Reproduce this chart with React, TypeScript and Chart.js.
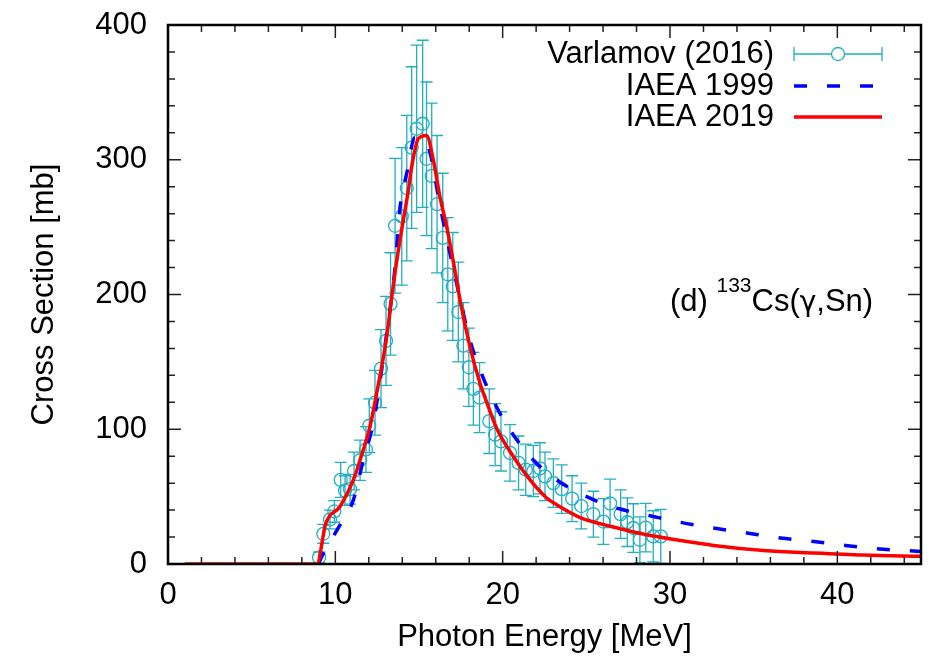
import React, { useEffect, useRef } from 'react';
import { Chart, registerables } from 'chart.js';

Chart.register(...registerables);

// ---- Data ----
const varlamovE = [9.03, 9.28, 9.68, 9.94, 10.32, 10.58, 10.88, 11.12, 11.48, 11.83, 12.03, 12.37, 12.73, 13.03, 13.3, 13.57, 13.97, 14.27, 14.56, 14.86, 15.22, 15.45, 15.76, 16.08, 16.42, 16.72, 17.02, 17.35, 17.65, 17.98, 18.25, 18.62, 19.2, 19.55, 19.9, 20.44, 20.95, 21.38, 21.83, 22.23, 22.53, 23.03, 23.53, 24.15, 24.7, 25.42, 26.02, 26.42, 27.05, 27.45, 27.81, 28.2, 28.55, 29.0, 29.45];
const varlamovXS = [4.9, 22.4, 33, 39, 62.4, 54.5, 55.5, 69, 77, 85, 102.6, 119.7, 145, 165.6, 193, 251, 258, 279, 309, 323, 326.7, 300.7, 288, 267, 242, 215, 206, 187, 162, 146, 130, 123.5, 106, 96, 91, 82.5, 75, 70, 69, 71, 65, 60, 55.5, 48.5, 43, 37, 31.5, 45, 37, 31, 26.7, 18, 27, 20.5, 20.5];
const varlamovErr = [4, 7, 7, 8, 13, 11, 11, 14, 15, 17, 20, 24, 29, 33, 38, 50, 51, 54, 60, 62, 62, 57, 54, 51, 48, 42, 40, 37, 32, 29, 27, 26, 24, 23, 22, 21, 20, 19, 19, 19, 18, 18, 18, 17, 17, 17, 17, 18, 18, 18, 18, 17, 18, 19, 20];

const iaea1999E = [8.98, 9.29, 10.28, 11.08, 11.67, 12.17, 12.47, 13.0, 13.57, 13.87, 14.27, 14.76, 15.56, 16.27, 16.9, 18.05, 18.65, 19.63, 20.44, 21.64, 23.23, 25.02, 26.82, 29.0, 30.6, 32.6, 34.6, 36.6, 38.6, 40.6, 42.55, 45];
const iaea1999XS = [0, 8, 29, 47.6, 77, 99.5, 119, 165, 220, 265, 290, 316.7, 309, 265, 228, 166, 144, 116.7, 99.5, 79.7, 62.4, 50, 41.5, 35.3, 31, 26.7, 23, 19.3, 16.7, 13.6, 11.1, 9.3];

const iaea2019E = [1, 8.89, 9.44, 10.28, 11.08, 11.67, 12.07, 12.47, 13.07, 13.37, 13.67, 14.06, 14.36, 14.56, 14.96, 15.45, 15.86, 16.26, 16.66, 17.25, 17.45, 18.05, 18.65, 19.05, 19.63, 20.63, 21.64, 22.63, 23.23, 24.63, 26.62, 28.61, 30.6, 32.6, 35.6, 38.6, 41.55, 45];
const iaea2019XS = [0, 0, 30.4, 42.7, 62.4, 84.7, 102, 126.7, 168.6, 198, 225, 255, 277, 294.5, 315.6, 318, 299.5, 272, 250, 210.6, 196, 161, 134, 120, 101, 80, 62.4, 49, 44, 34.5, 27.5, 21.7, 17.5, 13.8, 10, 8.1, 6.6, 5.7];

const xTicks = [0, 10, 20, 30, 40];
const yTicks = [0, 100, 200, 300, 400];
const xMinorStep = 2;
const yMinorStep = 20;

const legendLabels = ['Varlamov (2016)', 'IAEA 1999', 'IAEA 2019'];
const xTitle = 'Photon Energy [MeV]';
const yTitle = 'Cross Section [mb]';
const annPrefix = '(d) ';
const annSup = '133';
const annParts = ['Cs(', '\u03b3', ',Sn)'];

// ---- Styles ----
const FONT = '"Liberation Sans", Arial, Helvetica, sans-serif';
const GREEK_FONT = '"DejaVu Sans", sans-serif';
const FS = 31;
const CYAN = '#22afc2';
const BLUE = '#0000ff';
const RED = '#ff0000';

const errorBarPlugin = {
  id: 'errorBars',
  beforeDatasetsDraw(chart: any) {
    const { ctx, chartArea } = chart;
    const xs = chart.scales.x;
    const ys = chart.scales.y;
    ctx.save();
    ctx.beginPath();
    ctx.rect(chartArea.left, chartArea.top, chartArea.right - chartArea.left, chartArea.bottom - chartArea.top);
    ctx.clip();
    ctx.strokeStyle = CYAN;
    ctx.lineWidth = 1.3;
    varlamovE.forEach((e, i) => {
      const px = xs.getPixelForValue(e);
      const t = ys.getPixelForValue(varlamovXS[i] + varlamovErr[i]);
      const b = ys.getPixelForValue(varlamovXS[i] - varlamovErr[i]);
      ctx.beginPath();
      ctx.moveTo(px, t);
      ctx.lineTo(px, b);
      ctx.moveTo(px - 6, t);
      ctx.lineTo(px + 6, t);
      ctx.moveTo(px - 6, b);
      ctx.lineTo(px + 6, b);
      ctx.stroke();
    });
    ctx.restore();
  },
};

const framePlugin = {
  id: 'frame',
  afterDatasetsDraw(chart: any) {
    const { ctx, chartArea } = chart;
    const { left, right, top, bottom } = chartArea;
    const xs = chart.scales.x;
    const ys = chart.scales.y;
    ctx.save();
    ctx.strokeStyle = '#222';
    ctx.lineWidth = 1.5;
    ctx.beginPath();
    for (let v = xs.min; v <= xs.max + 1e-9; v += xMinorStep) {
      const major = xTicks.includes(v);
      const len = major ? 13 : 7;
      const p = xs.getPixelForValue(v);
      ctx.moveTo(p, bottom);
      ctx.lineTo(p, bottom - len);
      ctx.moveTo(p, top);
      ctx.lineTo(p, top + len);
    }
    for (let v = ys.min; v <= ys.max + 1e-9; v += yMinorStep) {
      const major = yTicks.includes(v);
      const len = major ? 13 : 7;
      const p = ys.getPixelForValue(v);
      ctx.moveTo(left, p);
      ctx.lineTo(left + len, p);
      ctx.moveTo(right, p);
      ctx.lineTo(right - len, p);
    }
    ctx.stroke();
    ctx.strokeStyle = '#000';
    ctx.lineWidth = 2.5;
    ctx.strokeRect(left, top, right - left, bottom - top);
    ctx.restore();
  },
  afterDraw(chart: any) {
    const { ctx } = chart;
    ctx.save();
    // legend
    ctx.font = `${FS}px ${FONT}`;
    ctx.fillStyle = '#000';
    ctx.textAlign = 'right';
    ctx.textBaseline = 'middle';
    const rows = [54, 86, 117];
    const textRight = 774;
    const s0 = 794;
    const s1 = 882;
    legendLabels.forEach((l, i) => ctx.fillText(l, textRight, rows[i]));
    // Varlamov sample
    ctx.strokeStyle = CYAN;
    ctx.lineWidth = 1.3;
    ctx.beginPath();
    ctx.moveTo(s0, rows[0]);
    ctx.lineTo(s1, rows[0]);
    ctx.moveTo(s0, rows[0] - 7);
    ctx.lineTo(s0, rows[0] + 7);
    ctx.moveTo(s1, rows[0] - 7);
    ctx.lineTo(s1, rows[0] + 7);
    ctx.stroke();
    ctx.fillStyle = '#fff';
    ctx.beginPath();
    ctx.arc((s0 + s1) / 2, rows[0], 6.5, 0, Math.PI * 2);
    ctx.fill();
    ctx.stroke();
    // IAEA 1999 sample
    ctx.strokeStyle = BLUE;
    ctx.lineWidth = 3.5;
    ctx.setLineDash([13, 20]);
    ctx.beginPath();
    ctx.moveTo(s0, rows[1]);
    ctx.lineTo(s1, rows[1]);
    ctx.stroke();
    ctx.setLineDash([]);
    // IAEA 2019 sample
    ctx.strokeStyle = RED;
    ctx.beginPath();
    ctx.moveTo(s0, rows[2]);
    ctx.lineTo(s1, rows[2]);
    ctx.stroke();
    // annotation
    ctx.fillStyle = '#000';
    ctx.textAlign = 'left';
    ctx.textBaseline = 'alphabetic';
    let x = 670;
    ctx.font = `${FS}px ${FONT}`;
    ctx.fillText(annPrefix, x, 311);
    x += ctx.measureText(annPrefix).width;
    ctx.font = `21px ${FONT}`;
    ctx.fillText(annSup, x, 292);
    x += ctx.measureText(annSup).width;
    annParts.forEach((p, i) => {
      ctx.font = i === 1 ? `28px ${GREEK_FONT}` : `${FS}px ${FONT}`;
      ctx.fillText(p, x, 311);
      x += ctx.measureText(p).width;
    });
    ctx.restore();
  },
};

export default function App() {
  const ref = useRef<HTMLCanvasElement>(null);
  useEffect(() => {
    const chart = new Chart(ref.current as HTMLCanvasElement, {
      type: 'scatter',
      data: {
        datasets: [
          {
            label: legendLabels[2],
            data: iaea2019E.map((e, i) => ({ x: e, y: iaea2019XS[i] })),
            showLine: true,
            borderColor: RED,
            borderWidth: 3.5,
            pointRadius: 0,
            cubicInterpolationMode: 'monotone',
            order: 0,
          },
          {
            label: legendLabels[1],
            data: iaea1999E.map((e, i) => ({ x: e, y: iaea1999XS[i] })),
            showLine: true,
            borderColor: BLUE,
            borderWidth: 3.5,
            borderDash: [13, 20],
            pointRadius: 0,
            cubicInterpolationMode: 'monotone',
            order: 1,
          },
          {
            label: legendLabels[0],
            data: varlamovE.map((e, i) => ({ x: e, y: varlamovXS[i] })),
            showLine: false,
            borderColor: CYAN,
            backgroundColor: 'rgba(0,0,0,0)',
            borderWidth: 1.3,
            pointRadius: 6.5,
            pointStyle: 'circle',
            order: 2,
          },
        ],
      } as any,
      options: {
        animation: false,
        responsive: true,
        maintainAspectRatio: false,
        layout: { padding: { left: 0, top: 25, right: 17, bottom: 0 } },
        plugins: { legend: { display: false }, tooltip: { enabled: false } },
        scales: {
          x: {
            type: 'linear',
            min: 0,
            max: 45,
            afterBuildTicks: (s: any) => {
              s.ticks = xTicks.map((v) => ({ value: v }));
            },
            afterFit: (s: any) => {
              s.height = 97;
              s.paddingLeft = 0;
              s.paddingRight = 0;
            },
            grid: { display: false, drawTicks: false },
            border: { display: false },
            ticks: { font: { size: FS, family: FONT }, color: '#000', padding: 13, maxRotation: 0, autoSkip: false },
            title: { display: true, text: xTitle, font: { size: FS, family: FONT }, color: '#000', padding: { top: 0, bottom: 5 } },
          },
          y: {
            type: 'linear',
            min: 0,
            max: 400,
            afterBuildTicks: (s: any) => {
              s.ticks = yTicks.map((v) => ({ value: v }));
            },
            afterFit: (s: any) => {
              s.width = 168;
              s.paddingTop = 0;
              s.paddingBottom = 0;
            },
            grid: { display: false, drawTicks: false },
            border: { display: false },
            ticks: { font: { size: FS, family: FONT }, color: '#000', padding: 21, autoSkip: false },
            title: { display: true, text: yTitle, font: { size: FS, family: FONT }, color: '#000', padding: { top: 26, bottom: 0 } },
          },
        },
      } as any,
      plugins: [errorBarPlugin, framePlugin],
    });
    return () => chart.destroy();
  }, []);
  return (
    <div style={{ position: 'fixed', left: 0, top: 0, width: 938, height: 661, background: '#fff' }}>
      <canvas ref={ref} />
    </div>
  );
}
